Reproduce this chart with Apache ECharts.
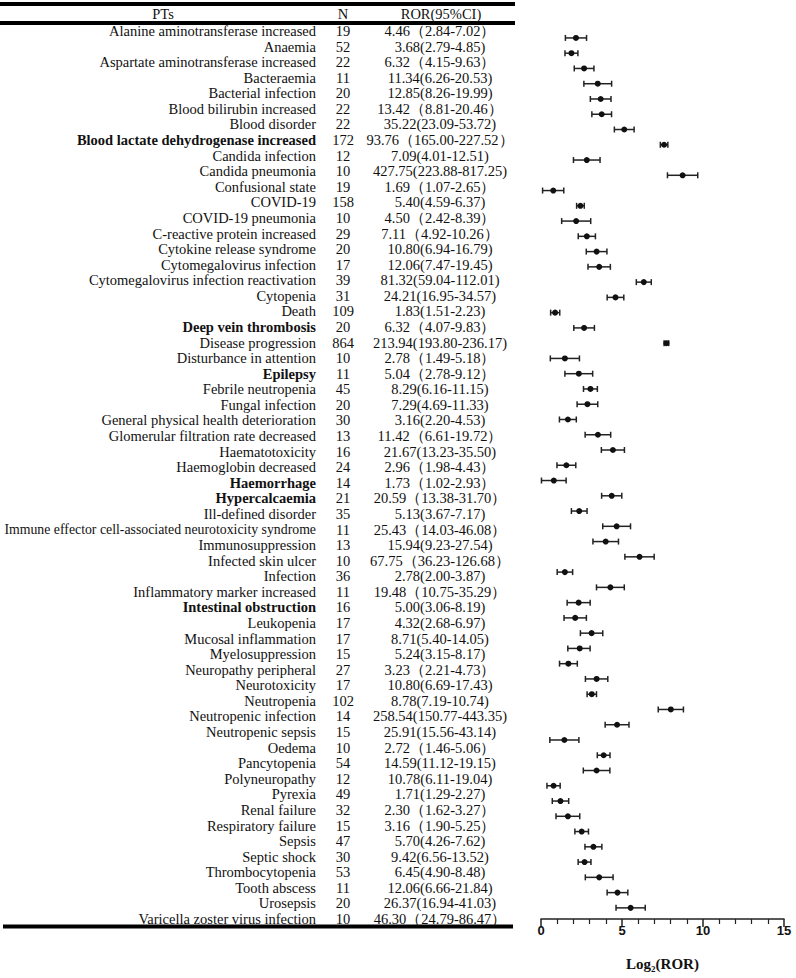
<!DOCTYPE html>
<html>
<head>
<meta charset="utf-8">
<script src="https://cdn.jsdelivr.net/npm/echarts@6/dist/echarts.min.js"></script>
<style>html,body{margin:0;padding:0;background:#fff;}#c{width:796px;height:978px;}</style>
</head>
<body>
<div id="c"></div>
<script>
const pts = ['Alanine aminotransferase increased','Anaemia','Aspartate aminotransferase increased','Bacteraemia','Bacterial infection','Blood bilirubin increased','Blood disorder','Blood lactate dehydrogenase increased','Candida infection','Candida pneumonia','Confusional state','COVID-19','COVID-19 pneumonia','C-reactive protein increased','Cytokine release syndrome','Cytomegalovirus infection','Cytomegalovirus infection reactivation','Cytopenia','Death','Deep vein thrombosis','Disease progression','Disturbance in attention','Epilepsy','Febrile neutropenia','Fungal infection','General physical health deterioration','Glomerular filtration rate decreased','Haematotoxicity','Haemoglobin decreased','Haemorrhage','Hypercalcaemia','Ill-defined disorder','Immune effector cell-associated neurotoxicity syndrome','Immunosuppression','Infected skin ulcer','Infection','Inflammatory marker increased','Intestinal obstruction','Leukopenia','Mucosal inflammation','Myelosuppression','Neuropathy peripheral','Neurotoxicity','Neutropenia','Neutropenic infection','Neutropenic sepsis','Oedema','Pancytopenia','Polyneuropathy','Pyrexia','Renal failure','Respiratory failure','Sepsis','Septic shock','Thrombocytopenia','Tooth abscess','Urosepsis','Varicella zoster virus infection'];
const nVals = ['19','52','22','11','20','22','22','172','12','10','19','158','10','29','20','17','39','31','109','20','864','10','11','45','20','30','13','16','24','14','21','35','11','13','10','36','11','16','17','17','15','27','17','102','14','15','10','54','12','49','32','15','47','30','53','11','20','10'];
const rorText = ['4.46（2.84-7.02）','3.68(2.79-4.85)','6.32（4.15-9.63）','11.34(6.26-20.53)','12.85(8.26-19.99)','13.42（8.81-20.46）','35.22(23.09-53.72)','93.76（165.00-227.52）','7.09(4.01-12.51)','427.75(223.88-817.25)','1.69（1.07-2.65）','5.40(4.59-6.37)','4.50（2.42-8.39）','7.11（4.92-10.26）','10.80(6.94-16.79)','12.06(7.47-19.45)','81.32(59.04-112.01)','24.21(16.95-34.57)','1.83(1.51-2.23)','6.32（4.07-9.83）','213.94(193.80-236.17)','2.78（1.49-5.18）','5.04（2.78-9.12）','8.29(6.16-11.15)','7.29(4.69-11.33)','3.16(2.20-4.53)','11.42（6.61-19.72）','21.67(13.23-35.50)','2.96（1.98-4.43）','1.73（1.02-2.93）','20.59（13.38-31.70）','5.13(3.67-7.17)','25.43（14.03-46.08）','15.94(9.23-27.54)','67.75（36.23-126.68）','2.78(2.00-3.87)','19.48（10.75-35.29）','5.00(3.06-8.19)','4.32(2.68-6.97)','8.71(5.40-14.05)','5.24(3.15-8.17)','3.23（2.21-4.73）','10.80(6.69-17.43)','8.78(7.19-10.74)','258.54(150.77-443.35)','25.91(15.56-43.14)','2.72（1.46-5.06）','14.59(11.12-19.15)','10.78(6.11-19.04)','1.71(1.29-2.27)','2.30（1.62-3.27）','3.16（1.90-5.25）','5.70(4.26-7.62)','9.42(6.56-13.52)','6.45(4.90-8.48)','12.06(6.66-21.84)','26.37(16.94-41.03)','46.30（24.79-86.47）'];
// plotted estimates (row 8 is plotted at ~193.76 in the figure)
const ror = [4.46,3.68,6.32,11.34,12.85,13.42,35.22,193.76,7.09,427.75,1.69,5.40,4.50,7.11,10.80,12.06,81.32,24.21,1.83,6.32,213.94,2.78,5.04,8.29,7.29,3.16,11.42,21.67,2.96,1.73,20.59,5.13,25.43,15.94,67.75,2.78,19.48,5.00,4.32,8.71,5.24,3.23,10.80,8.78,258.54,25.91,2.72,14.59,10.78,1.71,2.30,3.16,5.70,9.42,6.45,12.06,26.37,46.30];
const lower = [2.84,2.79,4.15,6.26,8.26,8.81,23.09,165.00,4.01,223.88,1.07,4.59,2.42,4.92,6.94,7.47,59.04,16.95,1.51,4.07,193.80,1.49,2.78,6.16,4.69,2.20,6.61,13.23,1.98,1.02,13.38,3.67,14.03,9.23,36.23,2.00,10.75,3.06,2.68,5.40,3.15,2.21,6.69,7.19,150.77,15.56,1.46,11.12,6.11,1.29,1.62,1.90,4.26,6.56,4.90,6.66,16.94,24.79];
const upper = [7.02,4.85,9.63,20.53,19.99,20.46,53.72,227.52,12.51,817.25,2.65,6.37,8.39,10.26,16.79,19.45,112.01,34.57,2.23,9.83,236.17,5.18,9.12,11.15,11.33,4.53,19.72,35.50,4.43,2.93,31.70,7.17,46.08,27.54,126.68,3.87,35.29,8.19,6.97,14.05,8.17,4.73,17.43,10.74,443.35,43.14,5.06,19.15,19.04,2.27,3.27,5.25,7.62,13.52,8.48,21.84,41.03,86.47];
const boldRows = ['Blood lactate dehydrogenase increased','Deep vein thrombosis','Epilepsy','Haemorrhage','Hypercalcaemia','Intestinal obstruction'];
const longRows = ['Immune effector cell-associated neurotoxicity syndrome'];
const headers = ['PTs','N','ROR(95%CI)'];
const xMin = 0, xMax = 15, xInterval = 5;

const FONT = "'Liberation Serif','Times New Roman',serif";
const FS = 14.5;
const TXT = '#111';

const fData = pts.map((p, i) => [Math.log2(lower[i]), Math.log2(upper[i]), Math.log2(ror[i]), i]);

const tableTop = 23.2, tableH = 903.6;
const plotTop = 30.3, plotH = 893.2;

function tableAxis(gi, data, labelOpt) {
  return {
    type: 'category', gridIndex: gi, data: data, inverse: true,
    axisLine: {show: false}, axisTick: {show: false}, splitLine: {show: false},
    axisLabel: Object.assign({interval: 0, fontFamily: FONT, fontSize: FS, color: TXT}, labelOpt)
  };
}

const option = {
  backgroundColor: '#fff',
  animation: false,
  grid: [
    {left: 320, width: 1, top: tableTop, height: tableH},
    {left: 343, width: 1, top: tableTop, height: tableH},
    {left: 440, width: 1, top: tableTop, height: tableH},
    {left: 541, right: 12, top: plotTop, height: plotH}
  ],
  xAxis: [
    {type: 'value', gridIndex: 0, show: false},
    {type: 'value', gridIndex: 1, show: false},
    {type: 'value', gridIndex: 2, show: false},
    {type: 'value', gridIndex: 3, min: xMin, max: xMax, interval: xInterval, offset: 3.5,
     axisLine: {show: true, lineStyle: {color: '#222', width: 1.5}},
     axisTick: {show: true, length: 8, lineStyle: {color: '#222', width: 1.5}},
     minorTick: {show: true, splitNumber: 5, length: 5, lineStyle: {color: '#222', width: 1.2}},
     splitLine: {show: false},
     axisLabel: {margin: 5, fontFamily: "'Liberation Sans Narrow','Liberation Sans',Arial,sans-serif", fontWeight: 'bold', fontSize: 13, color: '#111'},
     name: '{a|Log}{s|2}{a|(ROR)}', nameLocation: 'middle', nameGap: 36,
     nameTextStyle: {rich: {
       a: {fontFamily: FONT, fontWeight: 'bold', fontSize: 15, color: '#111'},
       s: {fontFamily: FONT, fontWeight: 'bold', fontSize: 9, color: '#111', padding: [9, 0, 0, 0]}
     }}
    }
  ],
  yAxis: [
    tableAxis(0, pts, {margin: 4, align: 'right',
      formatter: v => boldRows.indexOf(v) >= 0 ? '{b|' + v + '}' : (longRows.indexOf(v) >= 0 ? '{l|' + v + '}' : '{n|' + v + '}'),
      rich: {
        b: {fontFamily: FONT, fontSize: FS, fontWeight: 'bold', color: TXT},
        n: {fontFamily: FONT, fontSize: FS, color: TXT},
        l: {fontFamily: FONT, fontSize: 13.8, color: TXT}
      }}),
    tableAxis(1, nVals, {margin: 0, align: 'center'}),
    tableAxis(2, rorText, {margin: 0, align: 'center'}),
    {type: 'category', gridIndex: 3, data: pts, inverse: true, show: false}
  ],
  graphic: [
    {type: 'rect', shape: {x: 0, y: 2, width: 515, height: 4}, style: {fill: '#000'}},
    {type: 'rect', shape: {x: 0, y: 21, width: 515, height: 4}, style: {fill: '#000'}},
    {type: 'rect', shape: {x: 3, y: 924.5, width: 510, height: 4}, style: {fill: '#000'}},
    {type: 'text', x: 163, y: 13.5, style: {text: headers[0], font: FS + 'px ' + FONT, fill: TXT, align: 'center', verticalAlign: 'middle'}},
    {type: 'text', x: 343, y: 13.5, style: {text: headers[1], font: FS + 'px ' + FONT, fill: TXT, align: 'center', verticalAlign: 'middle'}},
    {type: 'text', x: 441, y: 13.5, style: {text: headers[2], font: FS + 'px ' + FONT, fill: TXT, align: 'center', verticalAlign: 'middle'}}
  ],
  series: [{
    type: 'custom', xAxisIndex: 3, yAxisIndex: 3,
    encode: {x: [0, 1, 2], y: 3},
    data: fData,
    renderItem: function (params, api) {
      const yi = api.value(3);
      const lo = api.coord([api.value(0), yi]);
      const hi = api.coord([api.value(1), yi]);
      const pt = api.coord([api.value(2), yi]);
      const st = {stroke: '#222', lineWidth: 1.5};
      return {type: 'group', children: [
        {type: 'line', shape: {x1: lo[0], y1: lo[1], x2: hi[0], y2: hi[1]}, style: st},
        {type: 'line', shape: {x1: lo[0], y1: lo[1] - 3, x2: lo[0], y2: lo[1] + 3}, style: st},
        {type: 'line', shape: {x1: hi[0], y1: hi[1] - 3, x2: hi[0], y2: hi[1] + 3}, style: st},
        {type: 'circle', shape: {cx: pt[0], cy: pt[1], r: 3}, style: {fill: '#111'}}
      ]};
    }
  }]
};
const chart = echarts.init(document.getElementById('c'), null, {renderer: 'svg'});
chart.setOption(option);
</script>
</body>
</html>
